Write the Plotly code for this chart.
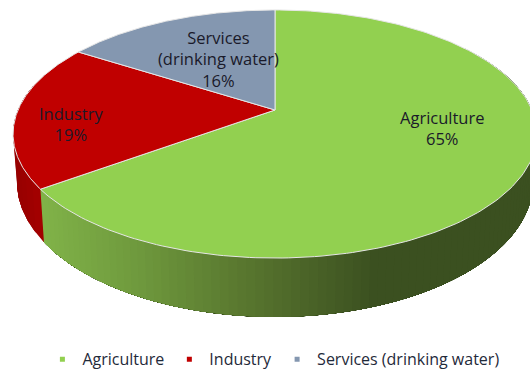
import numpy as np
import plotly.graph_objects as go

categories = ["Agriculture", "Industry", "Services (drinking water)"]
shares = [65, 19, 16]
label_texts = ["Agriculture<br>65%", "Industry<br>19%", "Services<br>(drinking water)<br>16%"]
colors = ["#92d050", "#c00000", "#8497b0"]

W, H = 530, 370
CX, CY = 275, 110
A, B, K = 119.4, 257.0, 0.1935
FONT = "'Open Sans', sans-serif"


def project(t):
    u, v = np.sin(t), -np.cos(t)
    d = 1 - K * v
    return B * u / d, A * v / d


def top(t):
    x, y = project(t)
    return CX + x, CY + y


def bottom(t):
    x, y = project(t)
    return CX + 0.985 * x, CY + 1.087 * y + 46


def mix(stops, x):
    xs = [s[0] for s in stops]
    rgb = [np.interp(x, xs, [s[1][i] for s in stops]) for i in range(3)]
    return "rgb(%d,%d,%d)" % tuple(int(round(c)) for c in rgb)


green_stops = [(43, (128, 178, 72)), (130, (112, 155, 62)), (265, (84, 112, 44)),
               (375, (59, 80, 32)), (540, (59, 80, 32))]
red_stops = [(13, (150, 0, 0)), (43, (165, 0, 0))]

fractions = np.cumsum([0] + shares) / sum(shares)
angles = 2 * np.pi * fractions

fig = go.Figure()


def side_band(t0, t1, n, stops):
    # Each band runs to the end of the wall and the next one paints over it, so no seams show
    edges = np.linspace(t0, t1, n + 1)
    for a, b in zip(edges[:-1], edges[1:]):
        ts = np.linspace(a, t1, 120)
        xt, yt = top(ts)
        xb, yb = bottom(ts[::-1])
        xs = np.r_[xt, xb, xt[0]]
        ys = np.r_[yt, yb, yt[0]]
        xa, _ = top(np.array([(a + b) / 2]))
        c = mix(stops, float(xa[0]))
        fig.add_trace(go.Scatter(x=xs, y=ys, mode="lines", fill="toself", fillcolor=c,
                                 line=dict(width=0), showlegend=False, hoverinfo="skip"))


# Visible side walls: the front of the agriculture slice and of the industry slice
side_band(np.radians(55), angles[1], 110, green_stops)
side_band(angles[1], np.radians(282), 12, red_stops)

# Top faces
for i, name in enumerate(categories):
    ts = np.linspace(angles[i], angles[i + 1], 200)
    x, y = top(ts)
    fig.add_trace(go.Scatter(x=np.r_[CX, x, CX], y=np.r_[CY, y, CY], mode="lines", fill="toself",
                             fillcolor=colors[i], line=dict(color="#e6e6e6", width=1),
                             showlegend=False, hoverinfo="skip"))

# Legend entries
for name, c in zip(categories, colors):
    fig.add_trace(go.Scatter(x=[None], y=[None], mode="markers", name=name,
                             marker=dict(symbol="square", size=5, color=c)))

annotation_xy = [(442, 128), (71, 124), (218, 59)]
for text, (ax, ay) in zip(label_texts, annotation_xy):
    fig.add_annotation(x=ax, y=ay, text=text, showarrow=False,
                       font=dict(family=FONT, size=16.5, color="#1a1a2a"))

fig.update_layout(
    width=W, height=H, margin=dict(l=0, r=0, t=0, b=0, autoexpand=False),
    paper_bgcolor="white", plot_bgcolor="white",
    xaxis=dict(range=[0, W], visible=False, fixedrange=True),
    yaxis=dict(range=[H, 0], visible=False, fixedrange=True),
    showlegend=True,
    legend=dict(orientation="h", x=0.08, xanchor="left", y=0.075, yanchor="top",
                font=dict(family=FONT, size=16, color="#1f2a3a"), itemwidth=30,
                bgcolor="rgba(0,0,0,0)"),
)
fig.write_html("out.html", config={"displayModeBar": False},
               post_script="document.body.style.margin='0';")
